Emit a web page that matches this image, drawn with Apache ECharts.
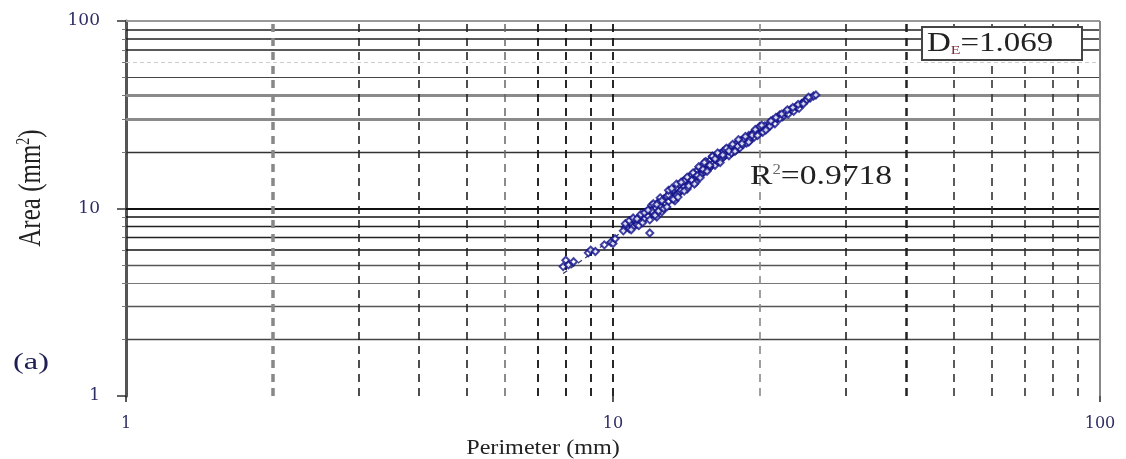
<!DOCTYPE html>
<html><head><meta charset="utf-8">
<script src="https://cdn.jsdelivr.net/npm/echarts@6/dist/echarts.min.js"></script>
<style>html,body{margin:0;padding:0;background:#fff}#c{width:1126px;height:459px}</style>
</head><body><div id="c"></div>
<script>
// ---- data ----
const perimeter = [7.9,8.0,8.1,8.3,8.9,9.0,9.2,9.6,9.9,10.0,10.1,10.6,10.7,10.8,10.9,11.0,11.1,11.2,11.3,11.4,11.5,11.6,11.7,11.8,11.9,11.9,12.0,12.1,12.2,12.3,12.4,12.5,12.6,12.7,12.8,12.9,13.0,13.1,13.2,13.3,13.4,13.5,13.6,13.7,13.8,13.9,14.0,14.1,14.2,14.3,14.4,14.5,14.6,14.7,14.8,14.9,15.0,15.1,15.2,15.3,15.4,15.5,15.6,15.7,15.8,15.9,16.0,16.1,16.2,16.3,16.4,16.5,16.6,16.7,16.8,16.9,17.0,17.2,17.3,17.5,17.6,17.8,17.9,18.0,18.2,18.3,18.5,18.6,18.8,19.0,19.1,19.3,19.5,19.7,19.9,20.1,20.3,20.5,20.8,21.0,21.3,21.5,21.8,22.0,22.3,22.6,22.9,23.2,23.5,23.8,24.1,24.4,24.7,25.0,25.4,25.8,26.1,11.0,12.0,13.0,14.0,15.0,16.0,17.0,18.0,19.0,20.0,21.0,22.0,12.5,13.5,14.5,15.5,16.5,17.5,18.5,19.5,
  10.5,10.6,10.8,10.9,11.0,11.2,11.3,11.4,11.5,11.6,11.8,11.9,12.1,12.2,12.3,12.4,12.6,12.7,12.9,13.0,13.2,13.3,13.5,13.6,13.8,14.0,14.2,14.3,14.6,14.7,14.9,15.1,15.3,15.4,15.6,15.8,16.0,16.2,16.4,16.6,16.8,17.1,17.3,17.6,17.8,18.1,18.4,18.7,19.0,19.3,19.6,19.8,20.2,20.6,21.1,21.6,22.2,22.8,23.4,24.0,24.6,25.2];
const area = [4.9,5.3,5.0,5.2,5.8,6.0,5.9,6.4,6.6,6.5,6.9,7.9,8.1,7.8,8.3,8.0,8.6,8.2,8.9,8.5,9.2,8.8,9.6,9.1,7.4,9.9,10.4,9.4,10.1,9.0,10.8,10.3,9.6,11.2,10.6,11.6,10.9,12.2,11.4,12.6,11.0,12.9,12.0,13.4,12.5,13.9,13.1,14.3,12.7,14.6,13.6,15.1,14.0,15.4,13.8,16.0,14.9,16.4,15.3,17.0,15.7,16.1,17.5,16.3,18.0,16.8,17.3,18.6,17.0,19.0,17.8,18.2,19.6,18.4,20.1,18.9,19.4,20.7,19.1,21.3,20.0,21.8,20.5,22.4,21.0,23.0,21.9,23.6,22.3,24.5,23.0,25.0,24.0,26.1,25.0,26.8,25.5,27.6,26.9,28.6,29.7,28.3,30.5,31.6,30.8,32.6,31.9,33.8,33.0,35.0,34.2,36.3,37.2,37.9,38.8,39.8,40.3,8.7,9.7,11.8,14.0,16.7,18.9,20.6,21.5,23.4,27.4,27.5,30.2,11.4,11.7,14.2,17.8,19.4,19.8,23.2,25.6,
  7.6,8.3,8.6,7.7,8.9,8.8,8.1,9.3,8.4,9.5,9.8,8.7,10.6,9.2,10.5,9.7,11.0,10.0,10.2,12.5,12.8,11.2,13.5,11.5,13.8,12.4,14.7,13.2,15.5,13.5,15.0,14.6,16.2,17.6,15.8,17.0,19.0,18.4,19.8,17.6,19.3,21.0,20.3,22.0,20.2,23.3,22.2,24.2,22.6,24.6,26.4,24.5,27.8,26.2,29.3,30.6,31.9,33.6,34.6,35.9,36.2,39.2];
const trendPerimeter = [7.9, 26.2];
const trendArea = [4.5, 40.5];
const xTickLabels = ['1', '10', '100'];
const yTickLabels = ['1', '10', '100'];
const xGridValues = [2,3,4,5,6,7,8,9,10,20,30,40,50,60,70,80,90,100];
const yGridValues = [2,3,4,5,6,7,8,9,10,20,30,40,50,60,70,80,90,100];
const rSquaredText = '0.9718';
const dEText = '1.069';
const panelText = '(a)';
const xName = 'Perimeter (mm)';
const yNameMain = 'Area (mm';

// ---- styles (kept apart from the data) ----
const DASH = [8, 6];
const yGridStyle = {
  100:{color:'#999',width:2,type:'solid'}, 90:{color:'#222',width:1.5}, 80:{color:'#222',width:1.5},
  70:{color:'#222',width:1.5}, 60:{color:'#ccc',width:1,type:[4,3]}, 50:{color:'#444',width:1.2},
  40:{color:'#8a8a8a',width:3}, 30:{color:'#8a8a8a',width:3}, 20:{color:'#333',width:1.3},
  10:{color:'#111',width:1.8}, 9:{color:'#111',width:1.5}, 8:{color:'#222',width:1.3},
  7:{color:'#222',width:1.3}, 6:{color:'#111',width:1.5}, 5:{color:'#555',width:1.3},
  4:{color:'#777',width:1.2}, 3:{color:'#555',width:1.3}, 2:{color:'#444',width:1.3}
};
const xGridStyle = {
  2:{color:'#888',width:3.5,type:DASH}, 3:{color:'#222',width:1.6,type:DASH}, 4:{color:'#222',width:1.6,type:DASH},
  5:{color:'#222',width:1.6,type:DASH}, 6:{color:'#666',width:1.5,type:DASH}, 7:{color:'#111',width:1.8,type:DASH},
  8:{color:'#111',width:1.8,type:DASH}, 9:{color:'#111',width:1.8,type:DASH}, 10:{color:'#111',width:1.8,type:DASH},
  20:{color:'#888',width:1.6,type:DASH}, 30:{color:'#222',width:1.6,type:DASH}, 40:{color:'#222',width:2.5,type:DASH},
  50:{color:'#333',width:1.6,type:DASH}, 60:{color:'#333',width:1.6,type:DASH}, 70:{color:'#333',width:1.6,type:DASH},
  80:{color:'#333',width:1.6,type:DASH}, 90:{color:'#333',width:1.6,type:DASH}, 100:{color:'#888',width:2,type:'solid'}
};
const SERIF = 'Liberation Serif';
const LABEL_FONT = 'DejaVu Serif';
const POINT_COLOR = '#12128c';

const gridLines = []
  .concat(yGridValues.map(v => ({yAxis: v, lineStyle: Object.assign({type:'solid'}, yGridStyle[v])})))
  .concat(xGridValues.map(v => ({xAxis: v, lineStyle: Object.assign({type:'solid'}, xGridStyle[v])})));

const chart = echarts.init(document.getElementById('c'), null, {renderer: 'canvas'});
chart.setOption({
  animation: false,
  backgroundColor: '#fff',
  grid: {left: 126, right: 26, top: 21, bottom: 63, containLabel: false, outerBoundsMode: 'none'},
  xAxis: {
    type: 'log', logBase: 10, min: 1, max: 100,
    axisLine: {show: false},
    axisTick: {show: true, length: 6, lineStyle: {color: '#222', width: 1.5}},
    splitLine: {show: false},
    axisLabel: {margin: 20, fontFamily: LABEL_FONT, fontSize: 16, color: '#2d2d66',
      formatter: (v, i) => xTickLabels[i] !== undefined ? xTickLabels[i] : String(v)}
  },
  yAxis: {
    type: 'log', logBase: 10, min: 1, max: 100,
    axisLine: {show: true, lineStyle: {color: '#555', width: 3}},
    axisTick: {show: true, length: 9, lineStyle: {color: '#333', width: 1.5}},
    minorTick: {show: true, splitNumber: 9, length: 4, lineStyle: {color: '#777', width: 1}},
    splitLine: {show: false},
    axisLabel: {margin: 26, fontFamily: LABEL_FONT, fontSize: 17, color: '#2d2d66',
      formatter: (v, i) => yTickLabels[i] !== undefined ? yTickLabels[i] : String(v)}
  },
  series: [
    {
      type: 'line', z: 2,
      data: trendPerimeter.map((p, i) => [p, trendArea[i]]),
      symbol: 'none',
      lineStyle: {color: '#333366', width: 1.2, type: [5, 4]},
      silent: true,
      markLine: {
        z: 1, silent: true, symbol: ['none', 'none'], animation: false,
        label: {show: false}, emphasis: {disabled: true},
        data: gridLines
      }
    },
    {
      type: 'scatter', z: 10,
      data: perimeter.map((p, i) => [p, area[i]]),
      symbol: 'emptyDiamond', symbolSize: 7,
      itemStyle: {color: POINT_COLOR, borderColor: POINT_COLOR, borderWidth: 1.7}
    }
  ],
  graphic: [
    {type: 'rect', z: 50, shape: {x: 922, y: 27, width: 160, height: 33},
      style: {fill: '#fff', stroke: '#444', lineWidth: 2}},
    {type: 'text', z: 51, x: 927, y: 44, scaleX: 1.22,
      style: {text: '{n|D}{s|E}{n|=' + dEText + '}', fill: '#222', align: 'left', verticalAlign: 'middle',
        rich: {n: {fontFamily: SERIF, fontSize: 27, fill: '#222'},
               s: {fontFamily: SERIF, fontSize: 13, fill: '#7a2a3a', verticalAlign: 'bottom'}}}},
    {type: 'text', z: 51, x: 750, y: 177, scaleX: 1.2,
      style: {text: '{n|R}{s|2}{n|=' + rSquaredText + '}', fill: '#222', align: 'left', verticalAlign: 'middle',
        rich: {n: {fontFamily: SERIF, fontSize: 28, fill: '#222'},
               s: {fontFamily: SERIF, fontSize: 14, fill: '#666', verticalAlign: 'top'}}}},
    {type: 'text', z: 51, x: 31, y: 363, scaleX: 1.35,
      style: {text: panelText, fill: '#1f1f55', fontFamily: SERIF, fontSize: 24, align: 'center', verticalAlign: 'middle'}},
    {type: 'text', z: 51, x: 543, y: 448, scaleX: 1.15,
      style: {text: xName, fill: '#222', fontFamily: SERIF, fontSize: 21, align: 'center', verticalAlign: 'middle'}},
    {type: 'text', z: 51, x: 31, y: 188, rotation: Math.PI / 2, scaleY: 1.3,
      style: {text: '{n|' + yNameMain + '}{s|2}{n|)}', fill: '#222', align: 'center', verticalAlign: 'middle',
        rich: {n: {fontFamily: SERIF, fontSize: 25, fill: '#222'},
               s: {fontFamily: SERIF, fontSize: 14, fill: '#222', verticalAlign: 'top'}}}}
  ]
});
</script>
</body></html>
